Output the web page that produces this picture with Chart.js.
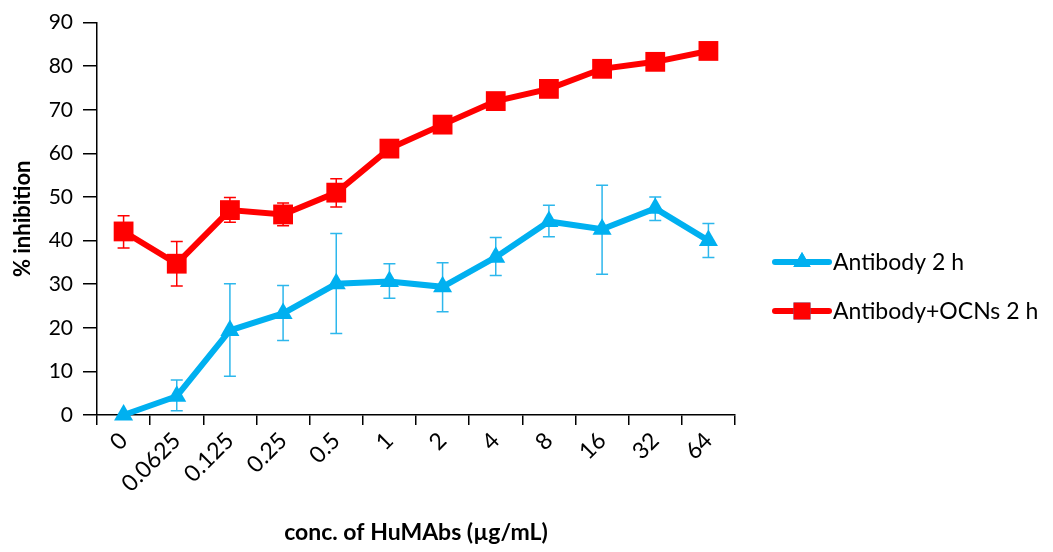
<!DOCTYPE html>
<html>
<head>
<meta charset="utf-8">
<script src="https://cdn.jsdelivr.net/npm/chart.js@4.4.1/dist/chart.umd.min.js"></script>
<style>
  html, body { margin: 0; padding: 0; background: #fff; }
  #wrap { width: 1053px; height: 552px; position: relative; }
</style>
</head>
<body>
<div id="wrap"><canvas id="inhibitionChart"></canvas></div>
<script>
// concentrations (µg/mL)
const concLabels = ["0", "0.0625", "0.125", "0.25", "0.5", "1", "2", "4", "8", "16", "32", "64"];

// Antibody 2 h
const antibody = [0, 4.3, 19.4, 23.3, 30.1, 30.6, 29.4, 36.2, 44.4, 42.6, 47.4, 40.0];
const antibodyHi = [null, 8.0, 30.1, 29.7, 41.6, 34.7, 34.9, 40.7, 48.1, 52.7, 50.0, 43.9];
const antibodyLo = [null, 1.0, 8.9, 17.1, 18.7, 26.8, 23.7, 32.0, 40.9, 32.3, 44.6, 36.1];

// Antibody+OCNs 2 h
const antibodyOcn = [42.1, 34.7, 47.0, 46.0, 51.0, 61.1, 66.6, 72.0, 74.8, 79.4, 81.0, 83.5];
const antibodyOcnHi = [45.7, 39.8, 49.9, 48.6, 54.2, 62.8, 68.0, 73.2, 76.0, 80.8, 82.2, 84.8];
const antibodyOcnLo = [38.3, 29.6, 44.2, 43.4, 47.7, 59.4, 65.4, 70.8, 73.6, 78.2, 79.8, 82.4];

const yTicks = { min: 0, max: 90, step: 10 };

const FONT = "Lato, 'Open Sans', sans-serif";
const BLUE = "#00B0F0";
const RED = "#FF0000";

/* ===============================
   ERROR BARS
================================ */
const errorBars = {
  id: "errorBars",
  beforeDatasetsDraw(chart) {
    const { ctx, scales: { x, y } } = chart;
    chart.data.datasets.forEach(ds => {
      const hi = ds.errHi, lo = ds.errLo;
      if (!hi) return;
      ctx.save();
      ctx.strokeStyle = ds.errColor;
      ctx.lineWidth = 1.5;
      hi.forEach((h, i) => {
        if (h == null) return;
        const px = x.getPixelForValue(i);
        const pt = y.getPixelForValue(h);
        const pb = y.getPixelForValue(lo[i]);
        ctx.beginPath();
        ctx.moveTo(px, pt); ctx.lineTo(px, pb);
        ctx.moveTo(px - 6, pt); ctx.lineTo(px + 6, pt);
        ctx.moveTo(px - 6, pb); ctx.lineTo(px + 6, pb);
        ctx.stroke();
      });
      ctx.restore();
    });
  }
};

/* ===============================
   LEGEND (line + marker)
================================ */
const sideLegend = {
  id: "sideLegend",
  afterDraw(chart) {
    const { ctx } = chart;
    const rows = [262, 311];
    chart.data.datasets.forEach((ds, i) => {
      const yy = rows[i];
      ctx.save();
      ctx.strokeStyle = ds.borderColor;
      ctx.lineWidth = 6;
      ctx.lineCap = "round";
      ctx.beginPath();
      ctx.moveTo(775, yy); ctx.lineTo(829, yy);
      ctx.stroke();
      Chart.helpers.drawPoint(ctx, {
        pointStyle: ds.pointStyle,
        radius: ds.legendRadius,
        borderWidth: 0
      }, 802, yy);
      ctx.fillStyle = ds.borderColor;
      ctx.fill();
      ctx.fillStyle = "#000";
      ctx.font = "23px " + FONT;
      ctx.textBaseline = "middle";
      ctx.textAlign = "left";
      ctx.fillText(ds.label, 833, yy + 1);
      ctx.restore();
    });
  }
};

new Chart(document.getElementById("inhibitionChart"), {
  type: "line",
  data: {
    labels: concLabels,
    datasets: [
      {
        label: "Antibody 2 h",
        data: antibody,
        errHi: antibodyHi,
        errLo: antibodyLo,
        errColor: "#2DB7EC",
        borderColor: BLUE,
        backgroundColor: BLUE,
        borderWidth: 6,
        pointStyle: "triangle",
        pointRadius: 11,
        pointBorderWidth: 0,
        legendRadius: 10,
        tension: 0,
        clip: false
      },
      {
        label: "Antibody+OCNs 2 h",
        data: antibodyOcn,
        errHi: antibodyOcnHi,
        errLo: antibodyOcnLo,
        errColor: RED,
        borderColor: RED,
        backgroundColor: RED,
        borderWidth: 6,
        pointStyle: "rect",
        pointRadius: 14,
        pointBorderWidth: 0,
        legendRadius: 12,
        tension: 0,
        clip: false
      }
    ]
  },
  options: {
    responsive: true,
    maintainAspectRatio: false,
    animation: false,
    layout: { padding: { top: 18, right: 318, left: 0, bottom: 0 } },
    plugins: {
      legend: { display: false },
      tooltip: { enabled: false }
    },
    scales: {
      x: {
        type: "category",
        offset: true,
        afterFit(s) { s.height = 137; },
        grid: {
          offset: true,
          drawOnChartArea: false,
          drawTicks: true,
          tickLength: 10,
          color: "#000",
          lineWidth: 1.5
        },
        border: { color: "#000", width: 1.5 },
        ticks: {
          color: "#000",
          font: { family: FONT, size: 23 },
          minRotation: 45,
          maxRotation: 45,
          autoSkip: false,
          padding: 2
        },
        title: {
          display: true,
          text: "conc. of HuMAbs (µg/mL)",
          color: "#000",
          font: { family: FONT, size: 23, weight: "bold" },
          padding: { top: 0, bottom: 6 }
        }
      },
      y: {
        min: yTicks.min,
        max: yTicks.max,
        afterFit(s) { s.width = 97; },
        grid: {
          drawOnChartArea: false,
          drawTicks: true,
          tickLength: 14,
          color: "#000",
          lineWidth: 1.5
        },
        border: { color: "#000", width: 1.5 },
        ticks: {
          stepSize: yTicks.step,
          color: "#000",
          font: { family: FONT, size: 21 },
          padding: 10
        },
        title: {
          display: true,
          text: "% inhibition",
          color: "#000",
          font: { family: FONT, size: 22, weight: "bold" },
          padding: { top: 10, bottom: 0 }
        }
      }
    }
  },
  plugins: [errorBars, sideLegend]
});
</script>
</body>
</html>
